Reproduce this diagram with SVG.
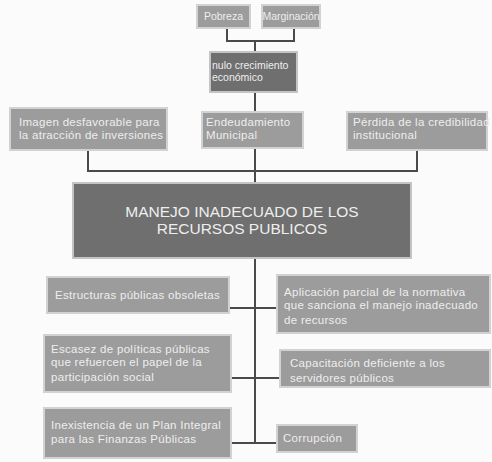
<svg xmlns="http://www.w3.org/2000/svg" width="492" height="462" viewBox="0 0 492 462">
  <style>
    .box { fill: #9c9c9c; stroke: #d2d2d2; stroke-width: 2; }
    .dark { fill: #6f6f6f; stroke: #c4c4c4; stroke-width: 2; }
    .t { font-family: "Liberation Sans", Arial, sans-serif; font-size: 11.5px; letter-spacing: 0.3px; fill: #eeeeee; }
    .s { font-size: 10.5px; letter-spacing: 0; }
    .big { font-family: "Liberation Sans", Arial, sans-serif; font-size: 15.5px; fill: #eeeeee; text-anchor: middle; }
    .line { fill: none; stroke: #4a4a4a; stroke-width: 2; }
  </style>
  <rect width="492" height="462" fill="#fbfbfb"/>

  <!-- connectors -->
  <g id="connectors">
    <polyline class="line" points="227,28 227,41 294,41 294,28"/>
    <line class="line" x1="255" y1="41" x2="255" y2="52"/>
    <line class="line" x1="255" y1="92" x2="255" y2="183"/>
    <polyline class="line" points="88,150 88,171 417,171 417,150"/>
    <line class="line" x1="255" y1="258" x2="255" y2="443"/>
    <line class="line" x1="229" y1="308" x2="277" y2="308"/>
    <line class="line" x1="231" y1="378" x2="280" y2="378"/>
    <line class="line" x1="231" y1="443" x2="277" y2="443"/>
  </g>

  <!-- top row -->
  <g id="pobreza">
    <rect class="box" x="197" y="5" width="53" height="23"/>
    <text class="t s" x="223.5" y="20" text-anchor="middle">Pobreza</text>
  </g>
  <g id="marginacion">
    <rect class="box" x="262" y="5" width="58" height="23"/>
    <text class="t s" x="291" y="20" text-anchor="middle">Marginación</text>
  </g>
  <g id="crecimiento">
    <rect class="dark" x="210" y="52" width="87" height="40"/>
    <text class="t s" x="212" y="69">nulo crecimiento</text>
    <text class="t s" x="212" y="81">económico</text>
  </g>

  <!-- effects -->
  <g id="imagen">
    <rect class="box" x="10" y="108" width="157" height="42"/>
    <text class="t" x="19" y="126">Imagen desfavorable para</text>
    <text class="t" x="19" y="139">la atracción de inversiones</text>
  </g>
  <g id="endeudamiento">
    <rect class="box" x="202" y="112" width="101" height="36"/>
    <text class="t" x="206" y="126">Endeudamiento</text>
    <text class="t" x="206" y="139">Municipal</text>
  </g>
  <g id="perdida">
    <rect class="box" x="347" y="112" width="140" height="38"/>
    <text class="t" x="353" y="126">Pérdida de la credibilidad</text>
    <text class="t" x="353" y="139">institucional</text>
  </g>

  <!-- central problem -->
  <g id="problema">
    <rect class="dark" x="73" y="183" width="338" height="75"/>
    <text class="big" x="242" y="217">MANEJO INADECUADO DE LOS</text>
    <text class="big" x="242" y="234">RECURSOS PUBLICOS</text>
  </g>

  <!-- causes -->
  <g id="estructuras">
    <rect class="box" x="47" y="277" width="182" height="36"/>
    <text class="t" x="55" y="299">Estructuras públicas obsoletas</text>
  </g>
  <g id="aplicacion">
    <rect class="box" x="277" y="275" width="213" height="58"/>
    <text class="t" x="284" y="296">Aplicación parcial de la normativa</text>
    <text class="t" x="284" y="309">que sanciona el manejo inadecuado</text>
    <text class="t" x="284" y="324">de recursos</text>
  </g>
  <g id="escasez">
    <rect class="box" x="44" y="335" width="187" height="57"/>
    <text class="t" x="51" y="353">Escasez de políticas públicas</text>
    <text class="t" x="51" y="366">que refuercen el papel de la</text>
    <text class="t" x="51" y="381">participación social</text>
  </g>
  <g id="capacitacion">
    <rect class="box" x="280" y="350" width="210" height="37"/>
    <text class="t" x="290" y="367">Capacitación deficiente a los</text>
    <text class="t" x="290" y="382">servidores públicos</text>
  </g>
  <g id="inexistencia">
    <rect class="box" x="44" y="408" width="187" height="50"/>
    <text class="t" x="51" y="429">Inexistencia de un Plan Integral</text>
    <text class="t" x="51" y="443">para las Finanzas Públicas</text>
  </g>
  <g id="corrupcion">
    <rect class="box" x="277" y="425" width="80" height="27"/>
    <text class="t" x="283" y="442">Corrupción</text>
  </g>
</svg>
